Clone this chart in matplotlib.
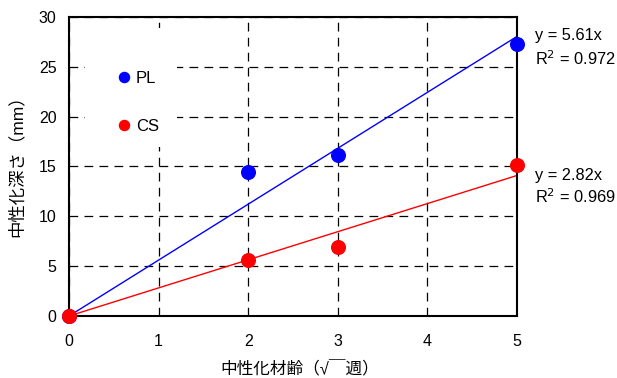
import matplotlib
matplotlib.use("Agg")
import matplotlib.pyplot as plt
from matplotlib.patches import Rectangle

plt.rcParams['font.family'] = ['Liberation Sans', 'Noto Sans CJK JP']

# carbonation depth vs sqrt(age in weeks)
age = [0, 2, 3, 5]
pl_depth = [0, 14.4, 16.2, 27.3]
cs_depth = [0, 5.6, 6.9, 15.2]
pl_slope, pl_r2 = 5.61, 0.972
cs_slope, cs_r2 = 2.82, 0.969
x_ticks = [0, 1, 2, 3, 4, 5]
y_ticks = [0, 5, 10, 15, 20, 25, 30]

BLUE, RED = "#0000ff", "#ff0000"

fig = plt.figure(figsize=(6.17, 3.78), dpi=100)
ax = fig.add_axes([69 / 617, 1 - 316 / 378, 448 / 617, 299 / 378])
ax.set_xlim(0, 5)
ax.set_ylim(0, 30)
ax.set_xticks(x_ticks)
ax.set_yticks(y_ticks)
ax.tick_params(length=0, labelsize=11.5)
ax.tick_params(axis="x", pad=13)
ax.tick_params(axis="y", pad=9)
ax.set_axisbelow(True)
ax.grid(True, color="black", lw=0.9, ls=(0, (7, 5)))
for s in ax.spines.values():
    s.set_linewidth(1.5)
    s.set_zorder(5)

# white backdrop behind the legend
ax.add_patch(Rectangle((0.036, 0.565), 0.205, 0.398, transform=ax.transAxes,
                       facecolor="white", edgecolor="none", zorder=1))

xs = [0, 5]
ax.plot(xs, [pl_slope * x for x in xs], color=BLUE, lw=1, zorder=2)
ax.plot(xs, [cs_slope * x for x in xs], color=RED, lw=1, zorder=2)
ax.plot(age, pl_depth, "o", color=BLUE, ms=9.8, label="PL", clip_on=False, zorder=6)
ax.plot(age, cs_depth, "o", color=RED, ms=9.8, label="CS", clip_on=False, zorder=6)

ax.legend(loc="center left", bbox_to_anchor=(0.097, 0.714), frameon=False,
          fontsize=12, handlelength=0.6, handletextpad=0.4,
          labelspacing=1.98, markerscale=0.74, borderaxespad=0)

tx = 1.040
fs = 11.8
ax.text(tx, 0.923, f"y = {pl_slope:.2f}x", transform=ax.transAxes, fontsize=fs, va="baseline")
ax.text(tx, 0.839, f"R$^2$ = {pl_r2:.3f}", transform=ax.transAxes, fontsize=fs, va="baseline")
ax.text(tx, 0.455, f"y = {cs_slope:.2f}x", transform=ax.transAxes, fontsize=fs, va="baseline")
ax.text(tx, 0.378, f"R$^2$ = {cs_r2:.3f}", transform=ax.transAxes, fontsize=fs, va="baseline")

ax.set_xlabel("中性化材齢（√￣週）", fontsize=12)
ax.set_ylabel("中性化深さ（mm）", fontsize=12.5)
ax.xaxis.set_label_coords(0.516, -0.15)
ax.yaxis.set_label_coords(-0.098, 0.515)

fig.savefig("out.png", dpi=100)
